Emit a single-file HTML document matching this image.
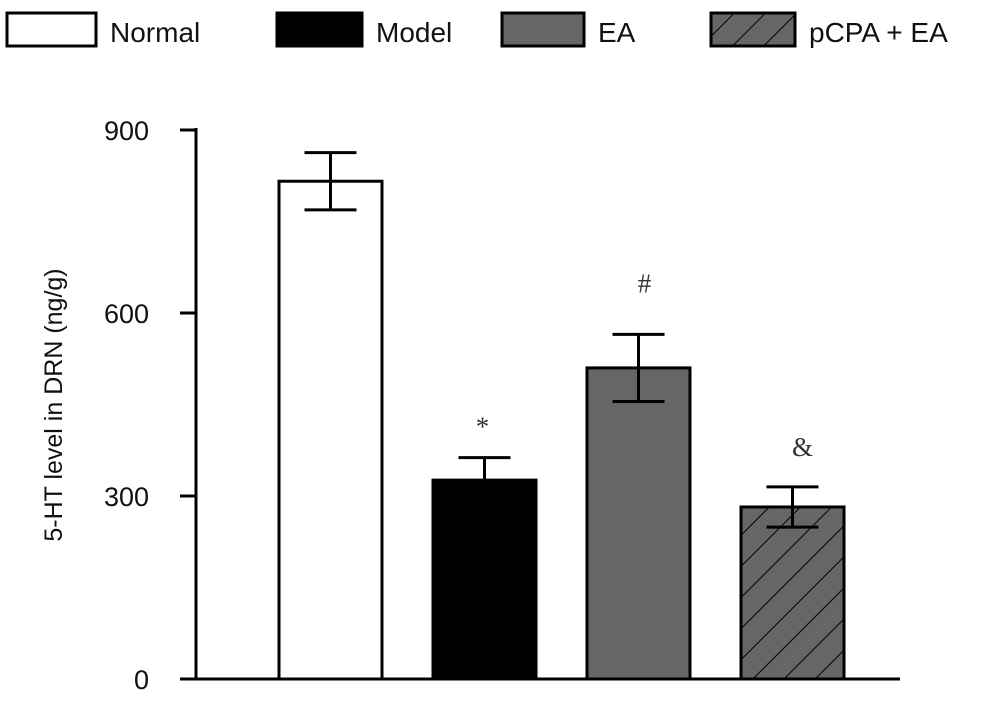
<!DOCTYPE html>
<html><head><meta charset="utf-8"><style>
body{margin:0;background:#fff;}
svg{display:block;font-family:"Liberation Sans",Arial,sans-serif;}
</style></head><body>
<svg width="989" height="701" viewBox="0 0 989 701">
<defs>
<pattern id="hatch" patternUnits="userSpaceOnUse" width="22" height="22" patternTransform="rotate(45)">
<rect width="22" height="22" fill="#666"/>
<line x1="0" y1="0" x2="0" y2="22" stroke="#000" stroke-width="2"/>
</pattern>
</defs>
<g id="legend"></g>
<g id="axes"></g>
<g id="bars"></g>
<text transform="translate(62,405) rotate(-90)" text-anchor="middle" font-size="25" fill="#111">5-HT  level in DRN (ng/g)</text>
</svg>
<script>
const categories=["Normal","Model","EA","pCPA + EA"];
const values=[816,326,510,282];
const errors=[47,37,55,33];
const marks=["","*","#","&"];
const yTicks=[0,300,600,900];
const fills=["#fff","#000","#666","url(#hatch)"];
const NS="http://www.w3.org/2000/svg";
const y0=679,y1=130,vmax=900;
function yScale(v){return y0-(v/vmax)*(y0-y1);}
function xScale(i){return 279+i*154;}
const bw=103;
const markGap=[0,22,42,31];
const markDx=[0,-2,6,10];
function mk(tag,attrs,parent){const e=document.createElementNS(NS,tag);for(const k in attrs)e.setAttribute(k,attrs[k]);parent.appendChild(e);return e;}
const axes=document.getElementById('axes');
let yl=mk('line',{x1:196,y1:y1-2,x2:196,y2:y0,stroke:'#000','stroke-width':3},axes);


let xl=mk('line',{x1:196,y1:y0,x2:900,y2:y0,stroke:'#000','stroke-width':3},axes);


yTicks.forEach(t=>{const y=yScale(t);
 const tk=mk('line',{x1:180,y1:y,x2:196,y2:y,stroke:'#000','stroke-width':3},axes);
 
 
 const tx=mk('text',{x:149,y:y+10,'text-anchor':'end','font-size':27,fill:'#111'},axes);
 tx.textContent=t;
 
 
});
const bars=document.getElementById('bars');
values.forEach((v,i)=>{
 const x=xScale(i),y=yScale(v);
 const r=mk('rect',{x:x,y:y,width:bw,height:y0-y,fill:fills[i],stroke:'#000','stroke-width':3},bars);
 
 
 const cx=x+bw/2,yt=yScale(v+errors[i]),yb=yScale(v-errors[i]);
 const eb=mk('path',{d:`M${cx},${yt}V${yb}M${cx-26},${yt}H${cx+26}M${cx-26},${yb}H${cx+26}`,stroke:'#000','stroke-width':3,fill:'none'},bars);
 
 
 if(marks[i]){const m=mk('text',{x:cx+markDx[i],y:yt-markGap[i],'text-anchor':'middle','font-size':27,'font-family':'Liberation Serif,serif',fill:'#333'},bars);
  m.textContent=marks[i];
  
  }
});
const legend=document.getElementById('legend');
const lx=[7,277,502,711];
const lw=[89,85,82,84];
categories.forEach((c,i)=>{
 const r=mk('rect',{x:lx[i],y:13,width:lw[i],height:33,fill:fills[i],stroke:'#000','stroke-width':3},legend);
 
 
 const t=mk('text',{x:lx[i]+lw[i]+14,y:42,'font-size':28,fill:'#111'},legend);
 t.textContent=c;
 
 
});
</script>
</body></html>
